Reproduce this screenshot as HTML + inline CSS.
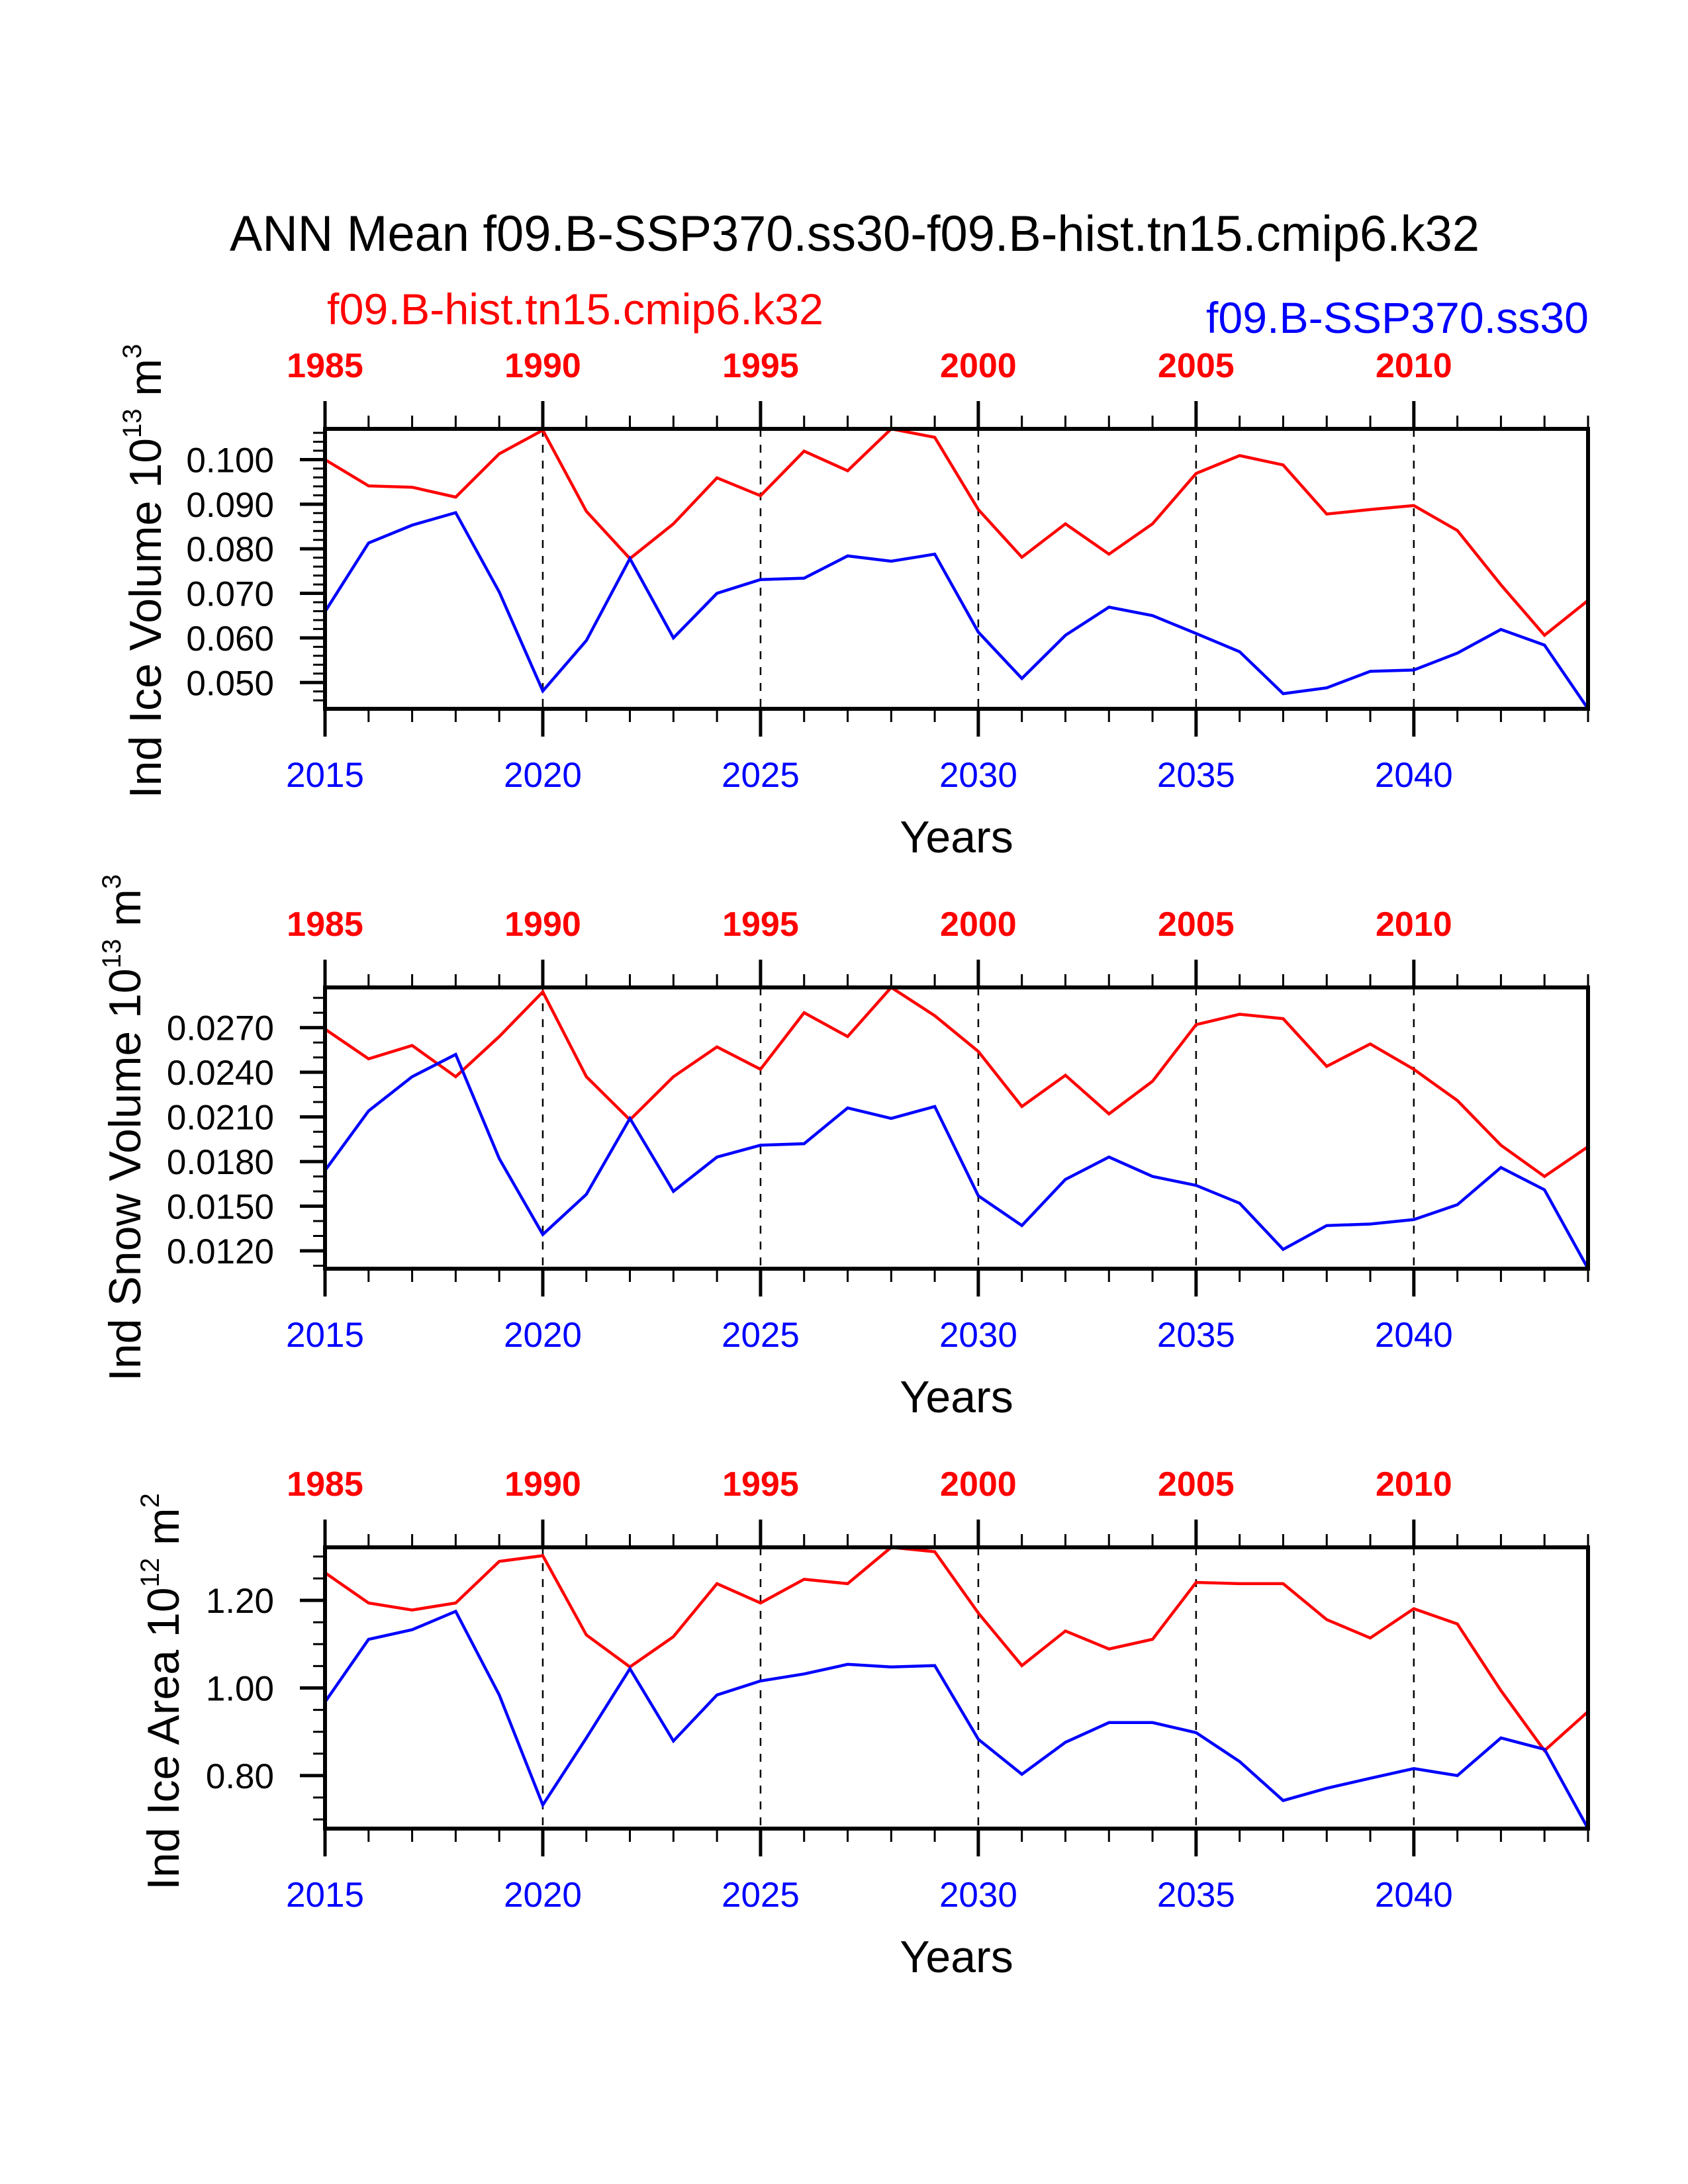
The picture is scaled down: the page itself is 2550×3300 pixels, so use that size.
<!DOCTYPE html>
<html><head><meta charset="utf-8">
<style>
html,body{margin:0;padding:0;background:#fff;}
svg{display:block;font-family:"Liberation Sans",Helvetica,Arial,sans-serif;}
</style></head>
<body>
<svg id="chart" width="2550" height="3300" viewBox="0 0 2550 3300" xmlns="http://www.w3.org/2000/svg">
<rect width="2550" height="3300" fill="#fff"/>
<text x="347" y="379" font-size="76" textLength="1888" lengthAdjust="spacingAndGlyphs" fill="#000">ANN Mean f09.B-SSP370.ss30-f09.B-hist.tn15.cmip6.k32</text>
<text x="494" y="490" font-size="66" textLength="750" lengthAdjust="spacingAndGlyphs" fill="#f00">f09.B-hist.tn15.cmip6.k32</text>
<text x="1822" y="503" font-size="66" textLength="578" lengthAdjust="spacingAndGlyphs" fill="#00f">f09.B-SSP370.ss30</text>
<g id="panels"></g>
</svg>
<script>
// Years
var years = [2015,2016,2017,2018,2019,2020,2021,2022,2023,2024,2025,2026,2027,2028,2029,2030,2031,2032,2033,2034,2035,2036,2037,2038,2039,2040,2041,2042,2043,2044];
var topTickLabels = ["1985","1990","1995","2000","2005","2010"];
var bottomTickLabels = ["2015","2020","2025","2030","2035","2040"];
// Panel 1: Ice volume
var volRed = [0.1000,0.0941,0.0938,0.0916,0.1013,0.1066,0.0884,0.0778,0.0856,0.0959,0.0919,0.1019,0.0975,0.1069,0.1050,0.0888,0.0781,0.0856,0.0788,0.0856,0.0969,0.1009,0.0988,0.0878,0.0888,0.0897,0.0841,0.0719,0.0606,0.0684];
var volBlue = [0.0659,0.0813,0.0853,0.0881,0.0703,0.0481,0.0594,0.0778,0.0600,0.0700,0.0731,0.0734,0.0784,0.0772,0.0788,0.0613,0.0509,0.0606,0.0669,0.0650,0.0610,0.0569,0.0475,0.0488,0.0525,0.0528,0.0566,0.0619,0.0584,0.0441];
var volTicks = ["0.050","0.060","0.070","0.080","0.090","0.100"];
// Panel 2: Snow volume
var snowRed = [0.0269,0.0249,0.0258,0.0237,0.0264,0.0294,0.0237,0.0208,0.0237,0.0257,0.0242,0.0280,0.0264,0.0297,0.0278,0.0254,0.0217,0.0238,0.0212,0.0234,0.0272,0.0279,0.0276,0.0244,0.0259,0.0242,0.0221,0.0191,0.0170,0.0190];
var snowBlue = [0.0174,0.0214,0.0237,0.0252,0.0182,0.0131,0.0158,0.0209,0.0160,0.0183,0.0191,0.0192,0.0216,0.0209,0.0217,0.0157,0.0137,0.0168,0.0183,0.0170,0.0164,0.0152,0.0121,0.0137,0.0138,0.0141,0.0151,0.0176,0.0161,0.0108];
var snowTicks = ["0.0120","0.0150","0.0180","0.0210","0.0240","0.0270"];
// Panel 3: Ice area
var areaRed = [1.263,1.194,1.178,1.194,1.289,1.302,1.121,1.048,1.117,1.238,1.194,1.248,1.238,1.321,1.311,1.171,1.051,1.130,1.089,1.111,1.241,1.238,1.238,1.156,1.114,1.181,1.146,0.994,0.857,0.946];
var areaBlue = [0.968,1.111,1.133,1.175,0.984,0.733,0.886,1.044,0.879,0.984,1.016,1.032,1.054,1.048,1.051,0.883,0.803,0.876,0.921,0.921,0.898,0.832,0.743,0.771,0.794,0.816,0.800,0.886,0.860,0.679];
var areaTicks = ["0.80","1.00","1.20"];

var NS = "http://www.w3.org/2000/svg";
var root = document.getElementById("panels");
function mk(tag, attrs, parent){
  var e = document.createElementNS(NS, tag);
  for (var k in attrs) e.setAttribute(k, attrs[k]);
  (parent||root).appendChild(e);
  return e;
}
var X0 = 491, X1 = 2399;
function xs(yr){ return X0 + (yr - years[0]) / (years[years.length-1] - years[0]) * (X1 - X0); }

function panel(idx, top, bottom, red, blue, ticks, minorStep, titleMain, titleSup, titleUnit, unitSup, titleX, titleY){
  var g = mk("g", {});
  
  
  var all = red.concat(blue);
  var vmin = Math.min.apply(null, all), vmax = Math.max.apply(null, all);
  function ys(v){ return bottom - (v - vmin) / (vmax - vmin) * (bottom - top); }
  for (var yr = 2020; yr <= 2040; yr += 5){
    var d = mk("line", {x1:xs(yr), x2:xs(yr), y1:top, y2:bottom, stroke:"#000", "stroke-width":2.5, "stroke-dasharray":"12,12"}, g);
    
    
  }
  for (var i = 0; i < years.length; i++){
    var major = (years[i] % 5 === 0);
    var L = major ? 42 : 20;
    var t1 = mk("line", {x1:xs(years[i]), x2:xs(years[i]), y1:top, y2:top - L, stroke:"#000", "stroke-width":major?5:3}, g);
    
    
    var t2 = mk("line", {x1:xs(years[i]), x2:xs(years[i]), y1:bottom, y2:bottom + L, stroke:"#000", "stroke-width":major?5:3}, g);
    
    
  }
  for (var j = 0; j < topTickLabels.length; j++){
    var xx = xs(2015 + 5*j);
    var tl = mk("text", {x:xx, y:top - 78, "font-size":52, "font-weight":"bold", fill:"#f00", "text-anchor":"middle"}, g);
    tl.textContent = topTickLabels[j];
    
    
    var bl = mk("text", {x:xx, y:bottom + 118, "font-size":53, fill:"#00f", "text-anchor":"middle"}, g);
    bl.textContent = bottomTickLabels[j];
    
    
  }
  var start = Math.ceil((vmin - 1e-9) / minorStep) * minorStep;
  for (var v = start; v <= vmax + 1e-9; v += minorStep){
    var isMajor = false;
    for (var k = 0; k < ticks.length; k++) if (Math.abs(parseFloat(ticks[k]) - v) < minorStep*0.1) isMajor = true;
    var yt = mk("line", {x1:X0, x2:X0 - (isMajor?38:18), y1:ys(v), y2:ys(v), stroke:"#000", "stroke-width":isMajor?5:3}, g);
    
    
  }
  for (var k2 = 0; k2 < ticks.length; k2++){
    var yl = mk("text", {x:414, y:ys(parseFloat(ticks[k2])) + 19, "font-size":53, "text-anchor":"end", fill:"#000"}, g);
    yl.textContent = ticks[k2];
    
    
  }
  function line(arr, color, name){
    var pts = arr.map(function(v, i){ return xs(years[i]).toFixed(1) + "," + ys(v).toFixed(1); }).join(" ");
    var p = mk("polyline", {points:pts, fill:"none", stroke:color, "stroke-width":4.5, "stroke-linejoin":"miter"}, g);
    
    
  }
  line(red, "#f00", "hist-series-line");
  line(blue, "#00f", "ssp-series-line");
  var box = mk("rect", {x:X0, y:top, width:X1-X0, height:bottom-top, fill:"none", stroke:"#000", "stroke-width":6}, g);
  
  
  var xt = mk("text", {x:1445, y:bottom + 217, "font-size":68, "text-anchor":"middle", fill:"#000"}, g);
  xt.textContent = "Years";
  
  
  var yT = mk("text", {x:0, y:0, "font-size":68, "text-anchor":"middle", fill:"#000", transform:"translate(" + titleX + "," + titleY + ") rotate(-90)"}, g);
  
  
  var s1 = mk("tspan", {}, yT); s1.textContent = titleMain;
  var s2 = mk("tspan", {dy:-30, "font-size":40}, yT); s2.textContent = titleSup;
  var s3 = mk("tspan", {dy:30}, yT); s3.textContent = " " + titleUnit;
  var s4 = mk("tspan", {dy:-30, "font-size":40}, yT); s4.textContent = unitSup;
}
panel(1, 648, 1071, volRed, volBlue, volTicks, 0.002, "Ind Ice Volume 10", "13", "m", "3", 243, 863);
panel(2, 1492, 1917, snowRed, snowBlue, snowTicks, 0.001, "Ind Snow Volume 10", "13", "m", "3", 212, 1704);
panel(3, 2338, 2763, areaRed, areaBlue, areaTicks, 0.05, "Ind Ice Area 10", "12", "m", "2", 270, 2556);
</script>
</body></html>
